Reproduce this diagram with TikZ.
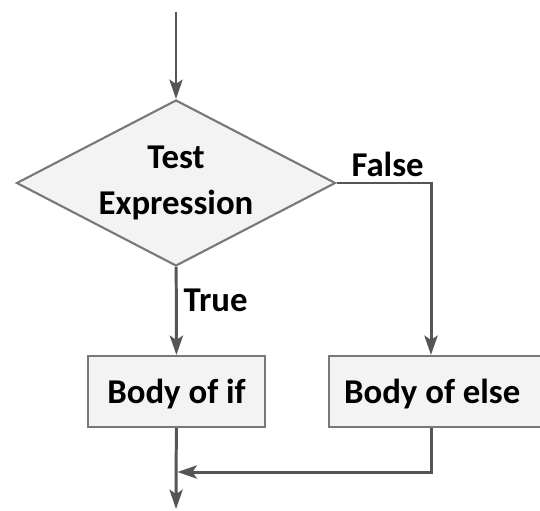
\documentclass[tikz,border=0pt]{standalone}
\usepackage{fontspec}
\setmainfont{Carlito}
\usepackage{tikz}
\usetikzlibrary{arrows.meta,shapes.geometric,positioning}

\definecolor{linegray}{RGB}{85,85,85}
\definecolor{boxgray}{RGB}{120,120,120}
\definecolor{boxfill}{RGB}{243,243,243}

\tikzset{
  flow/.style={draw=linegray, line width=1.7pt, -{Stealth[length=11pt,width=7.5pt,inset=2.5pt]}},
  decision/.style={diamond, draw=boxgray, fill=boxfill, line width=1.2pt, inner sep=0pt,
    aspect=1.92, minimum width=319*0.02cm, minimum height=166*0.02cm, align=center,
    font=\fontsize{19.8}{26.6}\selectfont\bfseries},
  process/.style={rectangle, draw=boxgray, fill=boxfill, line width=1.2pt,
    minimum height=71*0.02cm, text depth=0pt, font=\fontsize{19.8}{24}\selectfont\bfseries},
  flowlabel/.style={font=\fontsize{19.8}{24}\selectfont\bfseries}
}

\begin{document}
\begin{tikzpicture}[x=0.02cm, y=-0.02cm]
\useasboundingbox (0,0) rectangle (540,510);
\clip (0,0) rectangle (540,510);
%\draw (0,0) grid (540,510);

\coordinate (start) at (176,12);
\node [decision] (test) at (176,183) {Test\\Expression};

\node [process, minimum width=177*0.02cm] (ifbody) at (176.5,391.5) {Body of if};
\node [process, anchor=west, text width=202*0.02cm, inner xsep=15*0.02cm, align=flush left] (elsebody) at (328,391.5) {Body of else};

\coordinate (elsecol) at (431,391.5);
\coordinate (join) at (177.5,472);
\coordinate (stop) at (176,509);

\draw [flow] (start) -- (test);
\draw [flow] (test) -- node [flowlabel, pos=0.38, right] {True} (ifbody);
\draw [flow] (test.east) -| node [flowlabel, pos=0.27, above, inner sep=2.5pt] {False} (elsebody.north -| elsecol);

\draw [flow] (ifbody) -- (stop);
\draw [flow] (elsebody.south -| elsecol) |- (join);

\end{tikzpicture}
\end{document}
